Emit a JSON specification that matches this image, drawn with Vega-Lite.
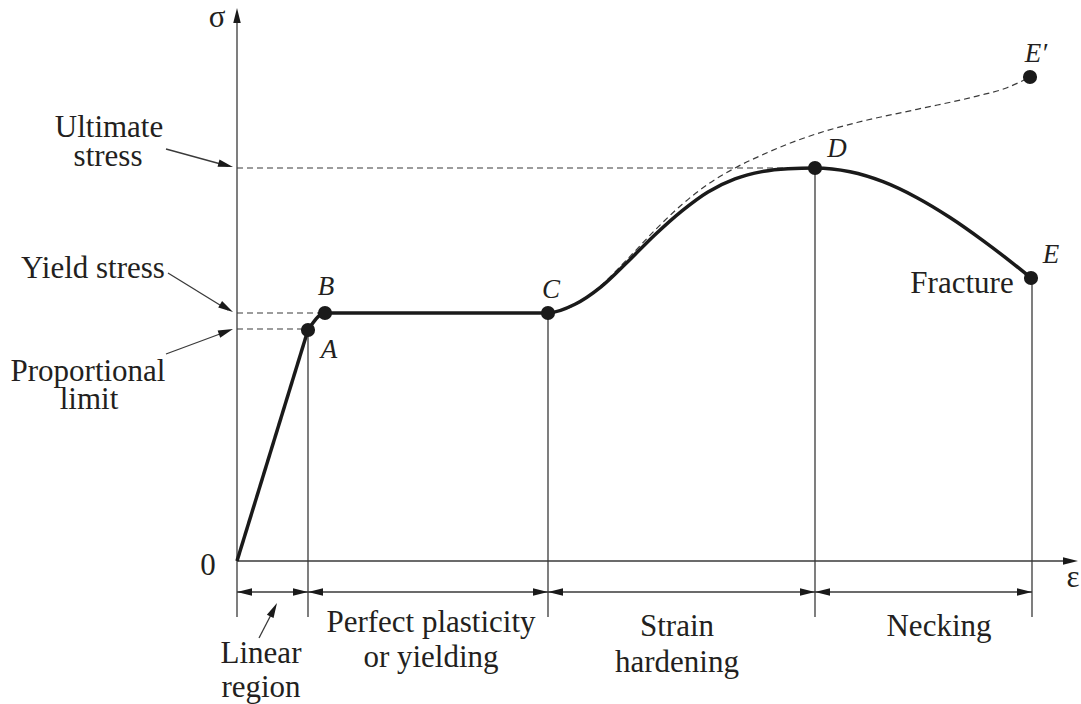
{
  "$schema": "https://vega.github.io/schema/vega-lite/v6.json",
  "width": 1081,
  "height": 704,
  "autosize": {"type": "none"},
  "padding": 0,
  "background": "white",
  "config": {"view": {"stroke": null}},
  "datasets": {
    "thin": [
      {"x": 0, "y": -56, "x2": 0, "y2": 546},
      {"x": 0, "y": 0, "x2": 830, "y2": 0},
      {"x": 71, "y": 231, "x2": 71, "y2": -56},
      {"x": 311, "y": 248, "x2": 311, "y2": -56},
      {"x": 578, "y": 393, "x2": 578, "y2": -56},
      {"x": 795, "y": 282, "x2": 795, "y2": -56},
      {"x": 0, "y": -31, "x2": 795, "y2": -31},
      {"x": -71, "y": 412, "x2": -9, "y2": 395},
      {"x": -69, "y": 288, "x2": -9, "y2": 251},
      {"x": -71, "y": 207, "x2": -9, "y2": 230},
      {"x": 22, "y": -77, "x2": 37, "y2": -48}
    ],
    "dashed": [
      {"x": 0, "y": 393, "x2": 578, "y2": 393},
      {"x": 0, "y": 248, "x2": 85, "y2": 248},
      {"x": 0, "y": 232, "x2": 71, "y2": 232}
    ],
    "curve": [
      {"seg": "OA", "i": 0, "x": 0, "y": 0},
      {"seg": "OA", "i": 1, "x": 71, "y": 231},
      {"seg": "AE", "i": 0, "x": 71, "y": 231},
      {"seg": "AE", "i": 1, "x": 88, "y": 248},
      {"seg": "AE", "i": 2, "x": 311, "y": 248},
      {"seg": "AE", "i": 3, "x": 338, "y": 256.7},
      {"seg": "AE", "i": 4, "x": 364, "y": 274.1},
      {"seg": "AE", "i": 5, "x": 391, "y": 299.5},
      {"seg": "AE", "i": 6, "x": 418, "y": 326.3},
      {"seg": "AE", "i": 7, "x": 445, "y": 350.2},
      {"seg": "AE", "i": 8, "x": 471, "y": 369.1},
      {"seg": "AE", "i": 9, "x": 498, "y": 382.1},
      {"seg": "AE", "i": 10, "x": 525, "y": 389.4},
      {"seg": "AE", "i": 11, "x": 551, "y": 392.3},
      {"seg": "AE", "i": 12, "x": 578, "y": 393},
      {"seg": "AE", "i": 13, "x": 613, "y": 389.2},
      {"seg": "AE", "i": 14, "x": 646, "y": 379.3},
      {"seg": "AE", "i": 15, "x": 680, "y": 363.3},
      {"seg": "AE", "i": 16, "x": 713, "y": 343.5},
      {"seg": "AE", "i": 17, "x": 746, "y": 320.4},
      {"seg": "AE", "i": 18, "x": 773, "y": 299.9},
      {"seg": "AE", "i": 19, "x": 794, "y": 283}
    ],
    "dcurve": [
      {"i": 0, "x": 311, "y": 248},
      {"i": 1, "x": 338, "y": 256},
      {"i": 2, "x": 364, "y": 275.5},
      {"i": 3, "x": 391, "y": 302.5},
      {"i": 4, "x": 418, "y": 330.9},
      {"i": 5, "x": 445, "y": 356.5},
      {"i": 6, "x": 471, "y": 376.8},
      {"i": 7, "x": 498, "y": 393},
      {"i": 8, "x": 525, "y": 406},
      {"i": 9, "x": 551, "y": 417},
      {"i": 10, "x": 578, "y": 426.7},
      {"i": 11, "x": 620, "y": 438.5},
      {"i": 12, "x": 680, "y": 451.7},
      {"i": 13, "x": 740, "y": 464.9},
      {"i": 14, "x": 770, "y": 473.3},
      {"i": 15, "x": 793, "y": 484}
    ],
    "dots": [
      {"name": "A", "x": 71, "y": 231},
      {"name": "B", "x": 88, "y": 248},
      {"name": "C", "x": 311, "y": 248},
      {"name": "D", "x": 578, "y": 393},
      {"name": "E", "x": 794, "y": 283},
      {"name": "E'", "x": 793, "y": 484}
    ],
    "heads": [
      {"x": 0, "y": 553, "ang": -90},
      {"x": 841, "y": 0, "ang": 0},
      {"x": -4, "y": 394, "ang": 15},
      {"x": -4, "y": 249, "ang": 31},
      {"x": -4, "y": 232, "ang": -20},
      {"x": 40, "y": -42, "ang": -63},
      {"x": 0, "y": -31, "ang": 180},
      {"x": 71, "y": -31, "ang": 0},
      {"x": 71, "y": -31, "ang": 180},
      {"x": 311, "y": -31, "ang": 0},
      {"x": 311, "y": -31, "ang": 180},
      {"x": 578, "y": -31, "ang": 0},
      {"x": 578, "y": -31, "ang": 180},
      {"x": 795, "y": -31, "ang": 0}
    ],
    "labels": [
      {"x": -128, "y": 424, "text": "Ultimate"},
      {"x": -129, "y": 395, "text": "stress"},
      {"x": -144, "y": 283, "text": "Yield stress"},
      {"x": -149, "y": 180, "text": "Proportional"},
      {"x": -148, "y": 152, "text": "limit"},
      {"x": -29, "y": -14, "text": "0"},
      {"x": -20, "y": 534, "text": "σ"},
      {"x": 836, "y": -26, "text": "ε"},
      {"x": 24, "y": -102, "text": "Linear"},
      {"x": 24, "y": -136, "text": "region"},
      {"x": 194, "y": -71, "text": "Perfect plasticity"},
      {"x": 194, "y": -106, "text": "or yielding"},
      {"x": 440, "y": -75, "text": "Strain"},
      {"x": 440, "y": -111, "text": "hardening"},
      {"x": 702, "y": -75, "text": "Necking"},
      {"x": 725, "y": 268, "text": "Fracture"}
    ],
    "letters": [
      {"x": 92, "y": 203, "text": "A"},
      {"x": 89, "y": 266, "text": "B"},
      {"x": 314, "y": 263, "text": "C"},
      {"x": 600, "y": 404, "text": "D"},
      {"x": 814, "y": 298, "text": "E"},
      {"x": 799, "y": 499, "text": "E′"}
    ]
  },
  "encoding": {
    "x": {"field": "x", "type": "quantitative", "scale": {"domain": [-237, 844], "nice": false, "zero": false}, "axis": null},
    "y": {"field": "y", "type": "quantitative", "scale": {"domain": [-143, 561], "nice": false, "zero": false}, "axis": null}
  },
  "layer": [
    {
      "data": {"name": "thin"},
      "mark": {"type": "rule", "color": "#3a3a3a", "strokeWidth": 1.3},
      "encoding": {"x2": {"field": "x2"}, "y2": {"field": "y2"}}
    },
    {
      "data": {"name": "dashed"},
      "mark": {"type": "rule", "color": "#3a3a3a", "strokeWidth": 1.2, "strokeDash": [6, 4]},
      "encoding": {"x2": {"field": "x2"}, "y2": {"field": "y2"}}
    },
    {
      "data": {"name": "dcurve"},
      "mark": {"type": "line", "color": "#3a3a3a", "strokeWidth": 1.2, "strokeDash": [6, 4], "interpolate": "monotone"},
      "encoding": {"order": {"field": "i", "type": "quantitative"}}
    },
    {
      "data": {"name": "curve"},
      "mark": {"type": "line", "color": "#1a1a1a", "strokeWidth": 3.5, "interpolate": "monotone", "strokeJoin": "round"},
      "encoding": {"detail": {"field": "seg"}, "order": {"field": "i", "type": "quantitative"}}
    },
    {
      "data": {"name": "dots"},
      "mark": {"type": "point", "filled": true, "opacity": 1, "color": "#1a1a1a", "size": 200, "shape": "circle"}
    },
    {
      "data": {"name": "heads"},
      "mark": {"type": "point", "filled": true, "opacity": 1, "color": "#1a1a1a", "size": 225, "shape": "M0,0L-2,-0.5L-2,0.5Z", "strokeWidth": 0},
      "encoding": {"angle": {"field": "ang", "type": "quantitative", "scale": null}}
    },
    {
      "data": {"name": "labels"},
      "mark": {"type": "text", "font": "Liberation Serif, DejaVu Serif, serif", "fontSize": 31, "color": "#231f20", "align": "center", "baseline": "alphabetic"},
      "encoding": {"text": {"field": "text"}}
    },
    {
      "data": {"name": "letters"},
      "mark": {"type": "text", "font": "Liberation Serif, DejaVu Serif, serif", "fontSize": 27, "fontStyle": "italic", "color": "#231f20", "align": "center", "baseline": "alphabetic"},
      "encoding": {"text": {"field": "text"}}
    }
  ]
}
